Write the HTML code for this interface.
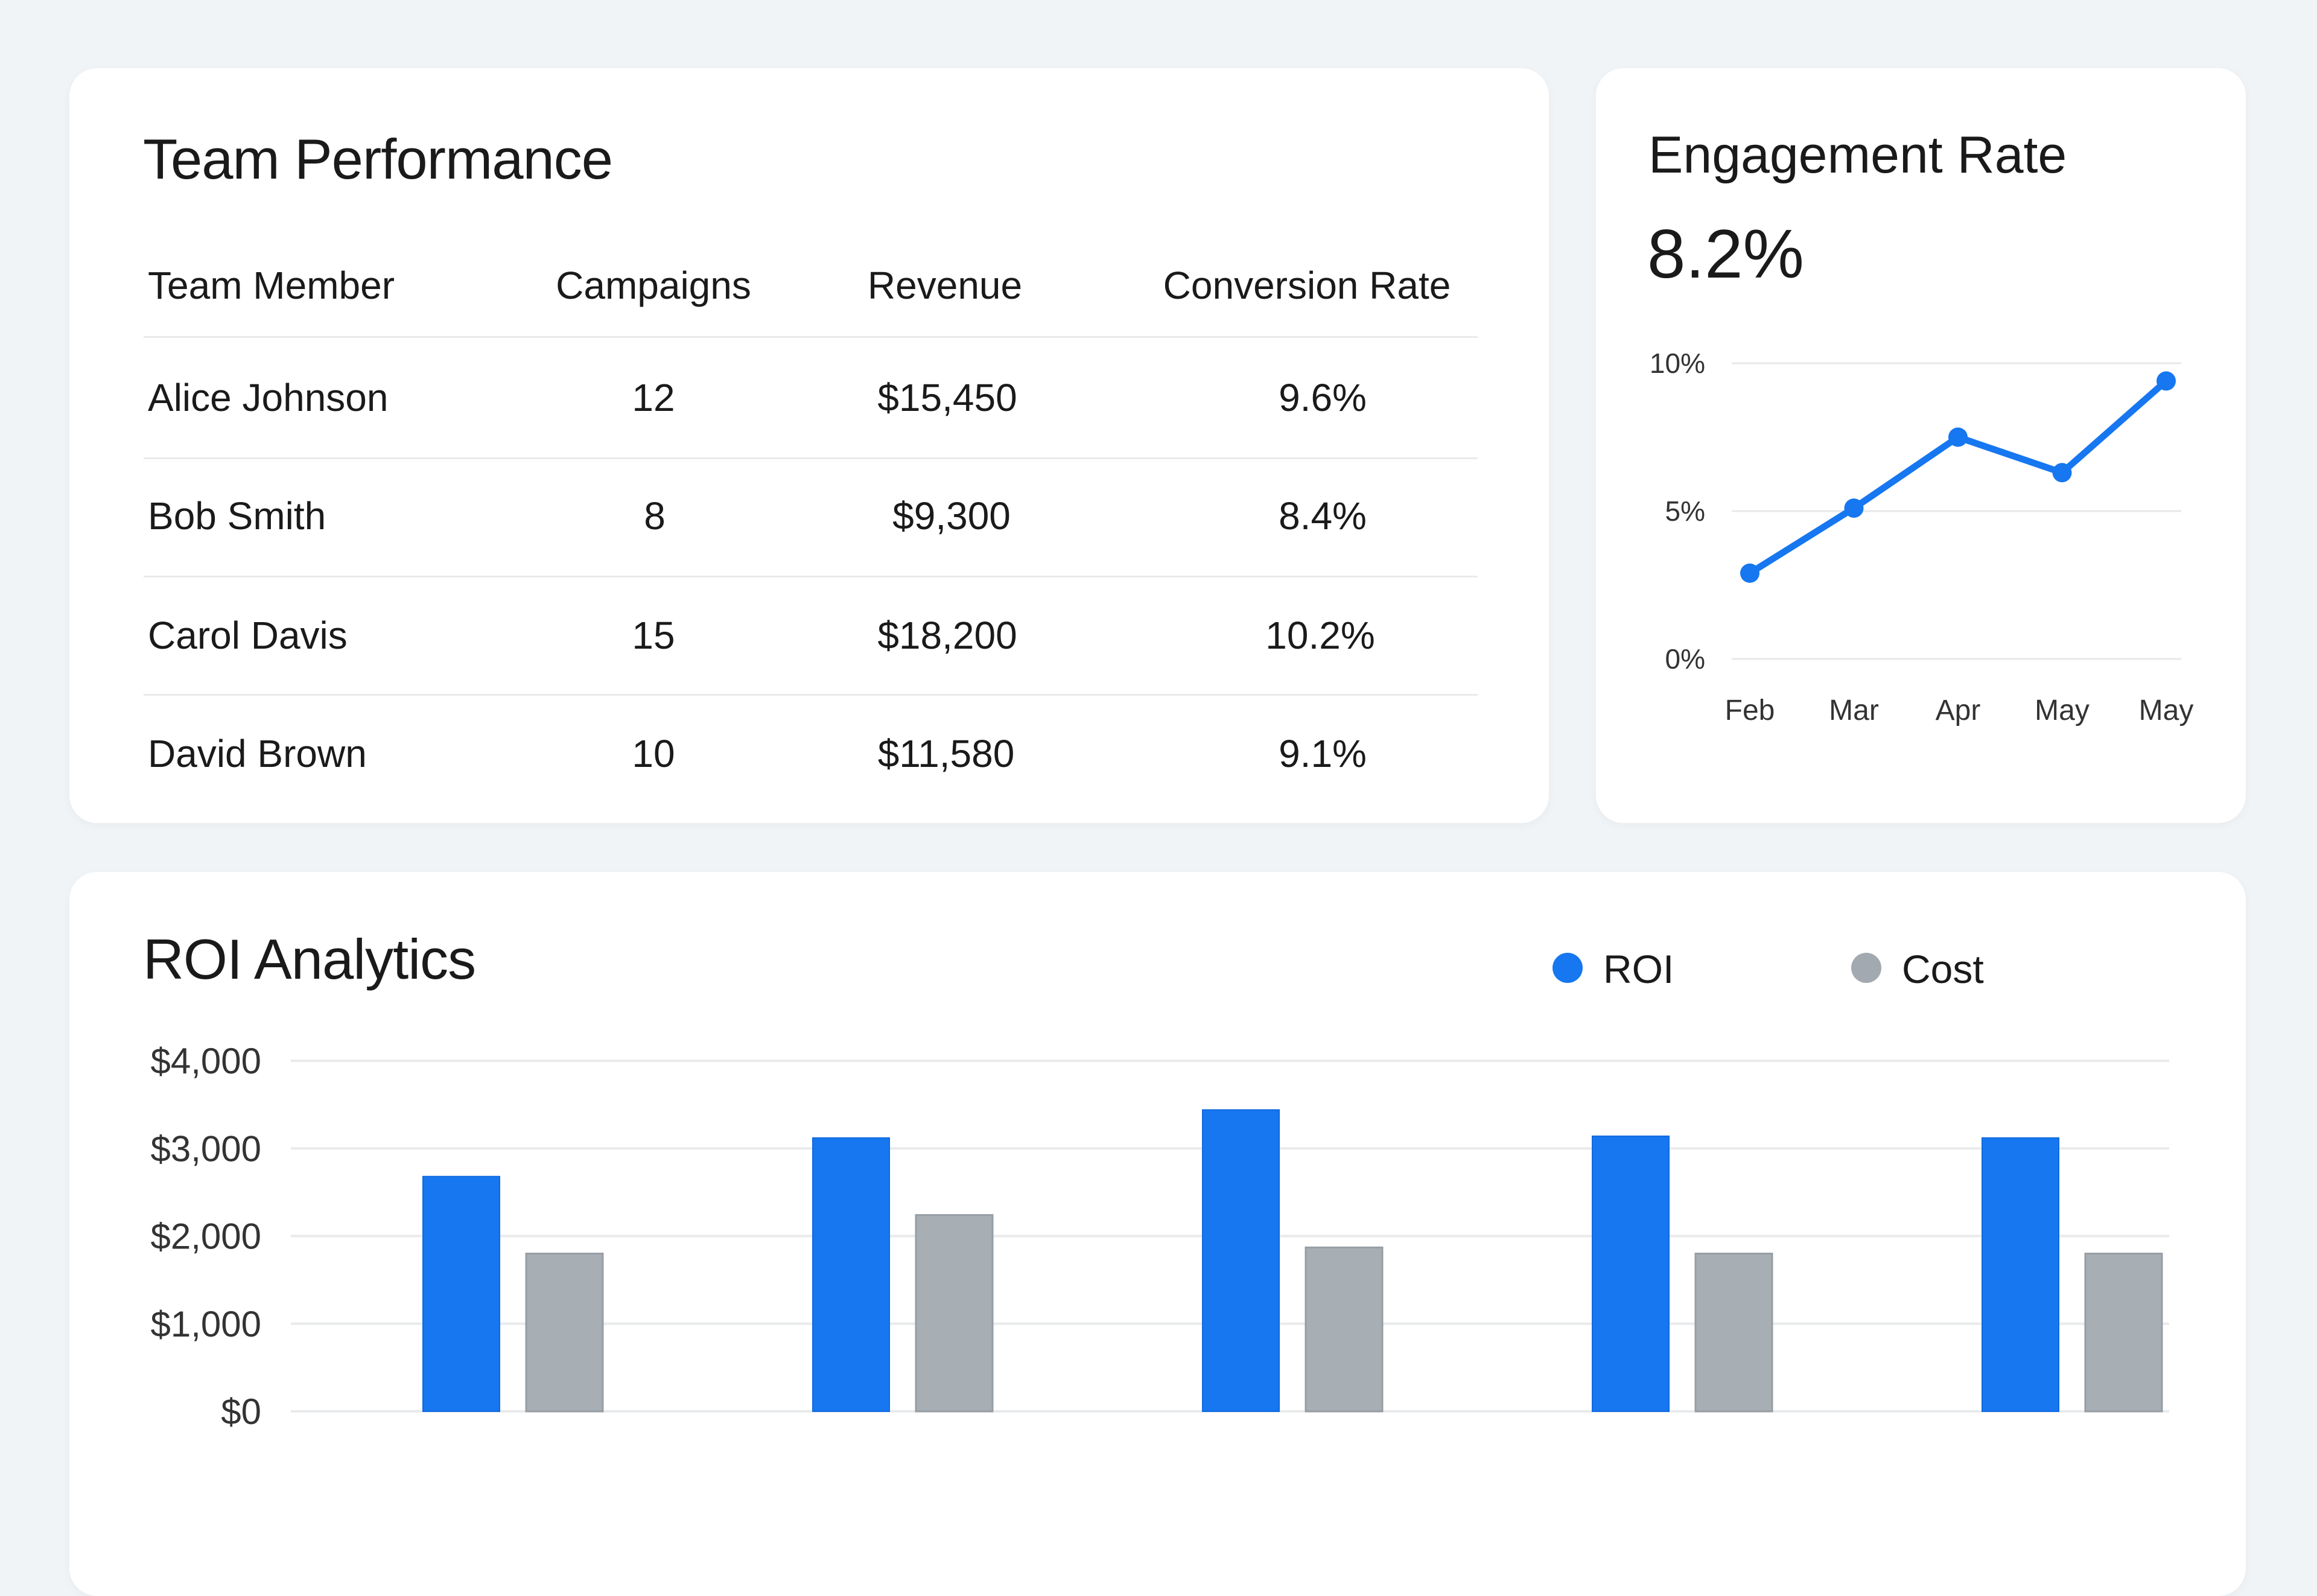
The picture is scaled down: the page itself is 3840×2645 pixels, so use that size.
<!DOCTYPE html>
<html><head><meta charset="utf-8">
<style>
html,body{margin:0;padding:0;}
body{width:3840px;height:2560px;background:#f1f4f6;position:relative;overflow:hidden;font-family:"Liberation Sans",sans-serif;color:#1a1a1a;}
.card{position:absolute;background:#fff;border-radius:46px;box-shadow:0 4px 16px rgba(0,0,0,0.04);}
.t{position:absolute;white-space:nowrap;}
.title{font-size:94px;font-weight:500;letter-spacing:-1px;}
.hd{font-size:64px;line-height:64px;}
.cell{font-size:64px;line-height:64px;}
.sep{position:absolute;left:238px;width:2211px;height:3px;background:#e8eaec;}
</style></head><body>

<div class="card" style="left:115px;top:113px;width:2452px;height:1251px;"></div>
<div class="t title" style="left:237px;top:210px;">Team Performance</div>

<div class="t hd" style="left:245px;top:441px;">Team Member</div>
<div class="t hd" style="left:1083px;top:441px;transform:translateX(-50%);">Campaigns</div>
<div class="t hd" style="left:1566px;top:441px;transform:translateX(-50%);">Revenue</div>
<div class="t hd" style="left:2166px;top:441px;transform:translateX(-50%);">Conversion Rate</div>
<div class="sep" style="top:557px;"></div>

<div class="t cell" style="left:245px;top:627px;">Alice Johnson</div>
<div class="t cell" style="left:1083px;top:627px;transform:translateX(-50%);">12</div>
<div class="t cell" style="left:1570px;top:627px;transform:translateX(-50%);">$15,450</div>
<div class="t cell" style="left:2192px;top:627px;transform:translateX(-50%);">9.6%</div>
<div class="sep" style="top:758px;"></div>

<div class="t cell" style="left:245px;top:823px;">Bob Smith</div>
<div class="t cell" style="left:1085px;top:823px;transform:translateX(-50%);">8</div>
<div class="t cell" style="left:1577px;top:823px;transform:translateX(-50%);">$9,300</div>
<div class="t cell" style="left:2192px;top:823px;transform:translateX(-50%);">8.4%</div>
<div class="sep" style="top:954px;"></div>

<div class="t cell" style="left:245px;top:1021px;">Carol Davis</div>
<div class="t cell" style="left:1083px;top:1021px;transform:translateX(-50%);">15</div>
<div class="t cell" style="left:1570px;top:1021px;transform:translateX(-50%);">$18,200</div>
<div class="t cell" style="left:2188px;top:1021px;transform:translateX(-50%);">10.2%</div>
<div class="sep" style="top:1150px;"></div>

<div class="t cell" style="left:245px;top:1217px;">David Brown</div>
<div class="t cell" style="left:1083px;top:1217px;transform:translateX(-50%);">10</div>
<div class="t cell" style="left:1568px;top:1217px;transform:translateX(-50%);">$11,580</div>
<div class="t cell" style="left:2192px;top:1217px;transform:translateX(-50%);">9.1%</div>

<div class="card" style="left:2645px;top:113px;width:1077px;height:1251px;"></div>
<div class="t" style="left:2732px;top:208px;font-size:86px;font-weight:500;">Engagement Rate</div>
<div class="t" style="left:2730px;top:356px;font-size:114px;">8.2%</div>
<svg id="line" style="position:absolute;left:0;top:0;" width="3840" height="1400"></svg>

<div class="card" style="left:115px;top:1445px;width:3607px;height:1200px;"></div>
<div class="t title" style="left:237px;top:1536px;">ROI Analytics</div>
<div class="t" style="left:2573px;top:1579px;width:50px;height:50px;border-radius:50%;background:#1677f0;"></div>
<div class="t" style="left:2657px;top:1568px;font-size:66px;">ROI</div>
<div class="t" style="left:3068px;top:1579px;width:50px;height:50px;border-radius:50%;background:#a2a9b0;"></div>
<div class="t" style="left:3152px;top:1568px;font-size:66px;">Cost</div>
<svg id="bars" style="position:absolute;left:0;top:0;" width="3840" height="2560"></svg>

<script>
const lineLabels = ["Feb","Mar","Apr","May","May"];
const lineValues = [2.9, 5.1, 7.5, 6.3, 9.4];
const lineTicks = [0, 5, 10];
const barCategories = ["Q1","Q2","Q3","Q4","Q5"];
const roiValues = [2680, 3120, 3440, 3140, 3120];
const costValues = [1800, 2240, 1870, 1800, 1800];
const barTicks = [0, 1000, 2000, 3000, 4000];

const NS = "http://www.w3.org/2000/svg";
function mk(svg, tag, attrs){const e=document.createElementNS(NS,tag);for(const k in attrs)e.setAttribute(k,attrs[k]);svg.appendChild(e);return e;}

(function(){
  const svg=document.getElementById('line');
  const y=v=>1092-(v/10)*490;
  const x=i=>2900+i*(3590-2900)/(lineLabels.length-1);
  lineTicks.forEach(t=>{
    const g=mk(svg,'line',{x1:2870,x2:3615,y1:y(t),y2:y(t),stroke:'#e6e8ea','stroke-width':3});
    
    
    const tx=mk(svg,'text',{x:2826,y:y(t)+16,'text-anchor':'end','font-size':46,fill:'#333','font-family':'Liberation Sans, sans-serif'});
    tx.textContent=t+'%';
    
    
  });
  lineLabels.forEach((l,i)=>{
    const tx=mk(svg,'text',{x:x(i),y:1193,'text-anchor':'middle','font-size':48,fill:'#333','font-family':'Liberation Sans, sans-serif'});
    tx.textContent=l;
    
    
  });
  const pl=mk(svg,'polyline',{points:lineValues.map((v,i)=>x(i)+','+y(v)).join(' '),fill:'none',stroke:'#1677f0','stroke-width':11,'stroke-linejoin':'round'});
  
  
  lineValues.forEach((v,i)=>{
    const c=mk(svg,'circle',{cx:x(i),cy:y(v),r:16,fill:'#1677f0'});
    
    
  });
})();

(function(){
  const svg=document.getElementById('bars');
  const y=v=>2339-(v/4000)*581;
  const start=527, step=646, bw=127, gap=44;
  const cx=i=>start+(i+0.5)*step;
  barTicks.forEach(t=>{
    const g=mk(svg,'line',{x1:482,x2:3595,y1:y(t),y2:y(t),stroke:'#e8eaec','stroke-width':4});
    
    
    const tx=mk(svg,'text',{x:433,y:y(t)+21,'text-anchor':'end','font-size':60,fill:'#333','font-family':'Liberation Sans, sans-serif'});
    tx.textContent='$'+t.toLocaleString('en-US');
    
    
  });
  barCategories.forEach((c,i)=>{
    const xl=cx(i)-(bw+gap/2);
    const r=mk(svg,'rect',{x:xl,y:y(roiValues[i]),width:bw,height:y(0)-y(roiValues[i]),fill:'#1677f0',stroke:'#0f6ae0','stroke-width':2});
    
    
    const k=mk(svg,'rect',{x:cx(i)+gap/2,y:y(costValues[i]),width:bw,height:y(0)-y(costValues[i]),fill:'#a7aeb4',stroke:'#979ea5','stroke-width':3});
    
    
  });
})();
</script>
</body></html>
